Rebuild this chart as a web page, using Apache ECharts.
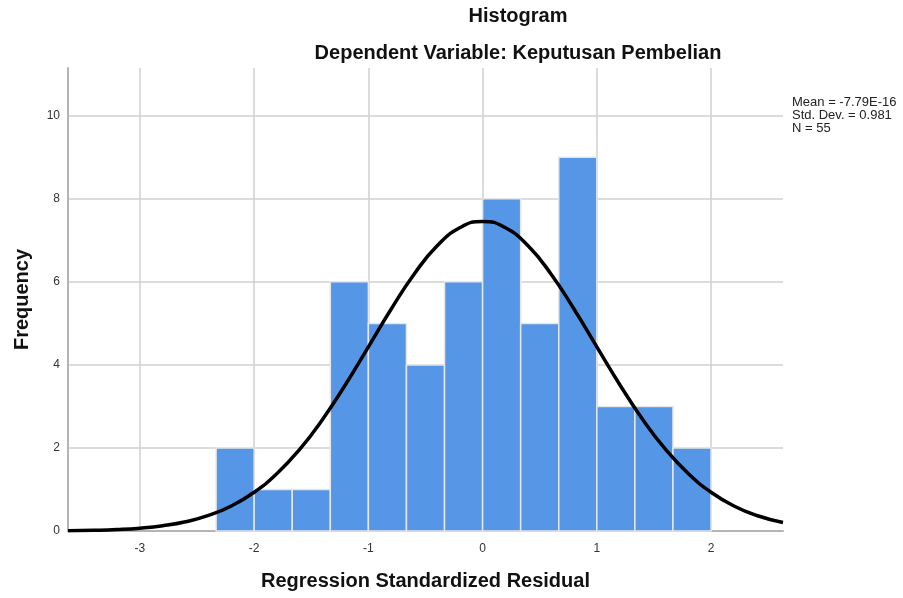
<!DOCTYPE html>
<html>
<head>
    <meta charset="utf-8">
    <script src="https://cdn.jsdelivr.net/npm/echarts@6/dist/echarts.min.js"></script>
</head>
<body style="margin:0">
    <div id="main" style="width: 903px;height:598px;"></div>
    <script>
        // histogram bins (left edge, width 1/3)
        var binStart = [-7, -6, -5, -4, -3, -2, -1, 0, 1, 2, 3, 4, 5].map(function (k) { return k / 3; });
        var binWidth = 1 / 3;
        var counts = [2, 1, 1, 6, 5, 4, 6, 8, 5, 9, 3, 3, 2];

        // normal curve
        var curveX = [-3.63, -3.4, -3.2, -3.0, -2.8, -2.6, -2.4, -2.2, -2.0, -1.8, -1.6, -1.4, -1.2, -1.0, -0.8, -0.6, -0.4, -0.2, 0,
            0.2, 0.4, 0.6, 0.8, 1.0, 1.2, 1.4, 1.6, 1.8, 2.0, 2.2, 2.4, 2.63];
        var curveY = [0.008, 0.018, 0.036, 0.069, 0.127, 0.222, 0.374, 0.603, 0.933, 1.384, 1.971, 2.693, 3.528, 4.435, 5.347, 6.184, 6.861, 7.302, 7.456,
            7.302, 6.861, 6.184, 5.347, 4.435, 3.528, 2.693, 1.971, 1.384, 0.933, 0.603, 0.374, 0.205];

        var xTicks = [-3, -2, -1, 0, 1, 2];
        var yTicks = [0, 2, 4, 6, 8, 10];
        var statLines = ['Mean = -7.79E-16', 'Std. Dev. = 0.981', 'N = 55'];

        var myChart = echarts.init(document.getElementById('main'));

        var barData = binStart.map(function (s, i) { return [s, s + binWidth, counts[i]]; });
        var curveData = curveX.map(function (x, i) { return [x, curveY[i]]; });

        var option = {
            backgroundColor: '#fff',
            animation: false,
            textStyle: { fontFamily: 'Liberation Sans, Arial, sans-serif' },
            title: [{
                text: 'Histogram',
                left: 518, top: 6, textAlign: 'center', padding: 0,
                textStyle: { fontSize: 20, fontWeight: 'bold', color: '#111' }
            }, {
                text: 'Dependent Variable: Keputusan Pembelian',
                left: 518, top: 43, textAlign: 'center', padding: 0,
                textStyle: { fontSize: 20, fontWeight: 'bold', color: '#111' }
            }],
            graphic: [{
                type: 'text', left: 792, top: 96,
                style: { text: statLines.join('\n'), fontSize: 13, lineHeight: 13, fill: '#222', fontFamily: 'Liberation Sans, Arial' }
            }],
            grid: { left: 68, right: 120, top: 68, bottom: 67 },
            xAxis: {
                type: 'value', min: -3.63, max: 2.63,
                name: 'Regression Standardized Residual',
                nameLocation: 'middle', nameGap: 40,
                nameTextStyle: { fontSize: 20, fontWeight: 'bold', color: '#111' },
                axisLine: { lineStyle: { color: '#b4b4b4', width: 2 } },
                axisTick: { show: false, customValues: xTicks },
                axisLabel: { customValues: xTicks, color: '#333', fontSize: 12, margin: 12 },
                splitLine: { show: true, lineStyle: { color: '#d0d0d0', width: 1.5 } }
            },
            yAxis: {
                type: 'value', min: 0, max: 11.15, interval: 2,
                name: 'Frequency',
                nameLocation: 'middle', nameGap: 36,
                nameTextStyle: { fontSize: 20, fontWeight: 'bold', color: '#111' },
                axisLine: { show: true, onZero: false, lineStyle: { color: '#b4b4b4', width: 2 } },
                axisTick: { show: false, customValues: yTicks },
                axisLabel: { color: '#333', fontSize: 12, margin: 8, customValues: yTicks },
                splitLine: { show: true, lineStyle: { color: '#d0d0d0', width: 1.5 } }
            },
            series: [{
                type: 'custom',
                data: barData,
                encode: { x: [0, 1], y: 2 },
                renderItem: function (params, api) {
                    var p0 = api.coord([api.value(0), api.value(2)]);
                    var p1 = api.coord([api.value(1), 0]);
                    return {
                        type: 'rect',
                        shape: { x: p0[0], y: p0[1], width: p1[0] - p0[0], height: p1[1] - p0[1] },
                        style: { fill: '#5596e6', stroke: '#e6e6e6', lineWidth: 1.5 }
                    };
                }
            }, {
                type: 'line',
                data: curveData,
                smooth: true,
                symbol: 'none',
                lineStyle: { color: '#000', width: 3.5 },
                z: 5
            }]
        };

        myChart.setOption(option);
    </script>
</body>
</html>
